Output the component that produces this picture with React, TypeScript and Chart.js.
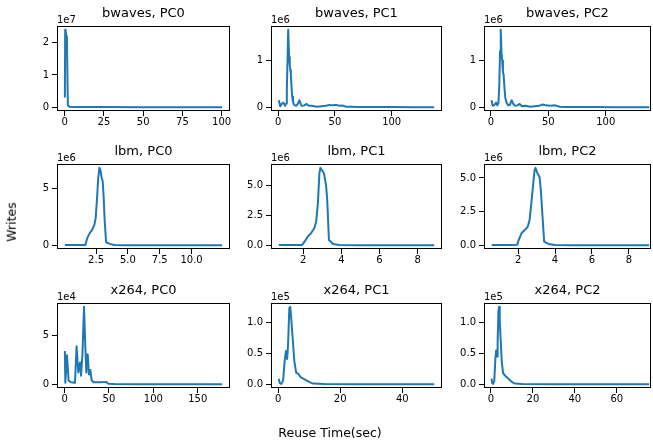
import React, { useEffect, useRef } from "react";
import { Chart, registerables } from "chart.js";

Chart.register(...registerables);

const FONT = "'DejaVu Sans', sans-serif";
const BLUE = "#1f77b4";

// ---- bwaves ----
const bwavesPC0X = [0.1, 0.3, 0.6, 1.0, 1.4, 2.0, 3.0, 5, 10, 25, 50, 75, 100.3];
const bwavesPC0Y = [3.0e6, 2.4e7, 2.38e7, 2.2e7, 2.1e7, 6e5, 1e5, 5e4, 2e4, 1e4, 5e3, 3e3, 2e3];
const bwavesPC0XTicks = [0, 25, 50, 75, 100];
const bwavesPC0YTicks = [0, 1e7, 2e7];

const bwavesPC1X = [0.5, 1.8, 3, 4.6, 6, 7, 7.6, 8.3, 8.8, 9.6, 10.2, 10.6, 11.1, 11.7, 12.3, 13, 14, 15.8, 17.5, 18.7, 20, 20.8, 23, 25, 27, 29.5, 34, 38, 42, 45.6, 48, 51, 54, 57, 60, 65, 70, 80, 100, 120, 137.5];
const bwavesPC1Y = [1.5e5, 2e4, 7e4, 1e5, 3e4, 8e4, 4e5, 1.1e6, 1.66e6, 1.08e6, 9e5, 8e5, 7.3e5, 4.5e5, 2.3e5, 1.2e5, 5e4, 3e4, 8e4, 1.5e5, 6e4, 3e4, 4e4, 7e4, 3e4, 3e4, 1e4, 2e4, 3e4, 5e4, 4e4, 5e4, 3e4, 3.5e4, 1e4, 8e3, 5e3, 4e3, 3e3, 2e3, 2e3];
const bwavesPC1XTicks = [0, 50, 100];
const bwavesPC1YTicks = [0, 1e6];

const bwavesPC2X = [0.5, 1.5, 3, 4.5, 5.5, 6.5, 7.2, 7.9, 8.5, 9.2, 9.8, 10.4, 11, 11.8, 12.5, 13.5, 15, 16.5, 18, 19.5, 21, 23, 25, 27, 30, 34, 38, 42, 45, 48, 52, 56, 60, 66, 75, 90, 110, 138];
const bwavesPC2Y = [1.5e5, 3e4, 5e4, 1e5, 4e4, 9e4, 4.5e5, 1.2e6, 1.66e6, 1.15e6, 1.0e6, 7.5e5, 7e5, 4e5, 2e5, 1e5, 4e4, 5e4, 1.5e5, 7e4, 3e4, 4e4, 7e4, 2e4, 3e4, 1e4, 2e4, 3e4, 6e4, 4e4, 3e4, 4e4, 1e4, 6e3, 4e3, 3e3, 2e3, 2e3];
const bwavesPC2XTicks = [0, 50, 100];
const bwavesPC2YTicks = [0, 1e6];

// ---- lbm ----
const lbmPC0X = [0.05, 1.0, 1.66, 1.8, 2.0, 2.19, 2.37, 2.47, 2.58, 2.66, 2.76, 2.84, 2.92, 3.02, 3.1, 3.18, 3.29, 3.63, 3.95, 5, 7, 9, 11, 12.4];
const lbmPC0Y = [2e4, 2e4, 3e4, 6e5, 1.06e6, 1.35e6, 1.8e6, 2.4e6, 4.15e6, 5.76e6, 6.8e6, 6.65e6, 6.05e6, 5.6e6, 4.15e6, 2.08e6, 2.6e5, 1e5, 2e4, 1e4, 1e4, 1e4, 1e4, 1e4];
const lbmPC0XTicks = [2.5, 5, 7.5, 10];
const lbmPC0YTicks = [0, 5e6];

const lbmPC1X = [0.72, 1.5, 1.95, 2.07, 2.24, 2.41, 2.58, 2.68, 2.77, 2.85, 2.9, 2.99, 3.09, 3.2, 3.26, 3.35, 3.57, 3.9, 5, 7, 8.87];
const lbmPC1Y = [2e4, 2e4, 3e4, 3e5, 7.2e5, 1.0e6, 1.42e6, 1.97e6, 3.5e6, 6.0e6, 6.47e6, 6.27e6, 6.0e6, 5.0e6, 3.77e6, 4.4e5, 1e5, 2e4, 1e4, 1e4, 1e4];
const lbmPC1XTicks = [2, 4, 6, 8];
const lbmPC1YTicks = [0, 2.5e6, 5e6];

const lbmPC2X = [0.57, 1.5, 1.95, 2.03, 2.18, 2.36, 2.52, 2.62, 2.75, 2.89, 2.94, 3.05, 3.16, 3.23, 3.3, 3.41, 3.64, 4.0, 5, 7, 9.1];
const lbmPC2Y = [2e4, 2e4, 3e4, 3.9e5, 8.9e5, 1.13e6, 1.38e6, 1.87e6, 3.6e6, 5.58e6, 5.75e6, 5.33e6, 5.08e6, 4.1e6, 2.6e6, 2.7e5, 1e5, 2e4, 1e4, 1e4, 1e4];
const lbmPC2XTicks = [2, 4, 6, 8];
const lbmPC2YTicks = [0, 2.5e6, 5e6];

// ---- x264 ----
const x264PC0X = [0.3, 0.8, 2.7, 4.5, 7.2, 11.7, 13.5, 15.4, 17.4, 18.5, 20, 21.9, 23.3, 24.5, 26, 27.5, 29, 30.4, 32.7, 41, 46.7, 49.3, 56, 80, 120, 177.5];
const x264PC0Y = [3.37e4, 1.4e3, 2.94e4, 3.7e3, 2e3, 1.5e3, 3.87e4, 1.2e4, 2.2e4, 8.7e3, 2.87e4, 7.87e4, 3.87e4, 1.2e4, 3.04e4, 1.0e4, 1.45e4, 4e3, 2e3, 2e3, 2.4e3, 5e2, 2e2, 1e2, 1e2, 1e2];
const x264PC0XTicks = [0, 50, 100, 150];
const x264PC0YTicks = [0, 5e4];

const x264PC1X = [0.2, 0.5, 1.0, 1.6, 2.1, 2.5, 2.9, 3.2, 3.6, 3.9, 4.2, 4.6, 5.2, 5.8, 6.5, 7.3, 8.1, 9.2, 10.3, 11.3, 15, 25, 40, 50.3];
const x264PC1Y = [9e3, 2e3, 5e2, 6e3, 3.8e4, 5.4e4, 4.1e4, 6.5e4, 1.24e5, 1.26e5, 1.08e5, 8.1e4, 3.8e4, 1.9e4, 1.7e4, 1.1e4, 9e3, 6e3, 3e3, 1e3, 2e2, 1e2, 1e2, 1e2];
const x264PC1XTicks = [0, 20, 40];
const x264PC1YTicks = [0, 5e4, 1e5];

const x264PC2X = [0.3, 0.6, 1.0, 1.6, 2.1, 2.5, 2.9, 3.2, 3.6, 3.9, 4.2, 4.6, 5.2, 5.8, 6.5, 7.3, 8.1, 9.2, 10.3, 11.5, 15, 30, 50, 75.4];
const x264PC2Y = [9e3, 2e3, 5e2, 5e3, 4e4, 5.5e4, 4.5e4, 7e4, 1.2e5, 1.26e5, 1.05e5, 7.5e4, 3.5e4, 1.8e4, 1.5e4, 1.2e4, 1e4, 6e3, 3e3, 1e3, 2e2, 1e2, 1e2, 1e2];
const x264PC2XTicks = [0, 20, 40, 60];
const x264PC2YTicks = [0, 5e4, 1e5];

type Panel = {
  title: string;
  x: number[];
  y: number[];
  xTicks: number[];
  xDec: number;
  yTicks: number[];
  yExp: number;
  yDec: number;
  row: number;
  col: number;
  xLim?: [number, number];
};

const panels: Panel[] = [
  { title: "bwaves, PC0", x: bwavesPC0X, y: bwavesPC0Y, xTicks: bwavesPC0XTicks, xDec: 0, yTicks: bwavesPC0YTicks, yExp: 7, yDec: 0, row: 0, col: 0 },
  { title: "bwaves, PC1", x: bwavesPC1X, y: bwavesPC1Y, xTicks: bwavesPC1XTicks, xDec: 0, yTicks: bwavesPC1YTicks, yExp: 6, yDec: 0, row: 0, col: 1 },
  { title: "bwaves, PC2", x: bwavesPC2X, y: bwavesPC2Y, xTicks: bwavesPC2XTicks, xDec: 0, yTicks: bwavesPC2YTicks, yExp: 6, yDec: 0, row: 0, col: 2, xLim: [-6.1, 139.5] },
  { title: "lbm, PC0", x: lbmPC0X, y: lbmPC0Y, xTicks: lbmPC0XTicks, xDec: 1, yTicks: lbmPC0YTicks, yExp: 6, yDec: 0, row: 1, col: 0 },
  { title: "lbm, PC1", x: lbmPC1X, y: lbmPC1Y, xTicks: lbmPC1XTicks, xDec: 0, yTicks: lbmPC1YTicks, yExp: 6, yDec: 1, row: 1, col: 1 },
  { title: "lbm, PC2", x: lbmPC2X, y: lbmPC2Y, xTicks: lbmPC2XTicks, xDec: 0, yTicks: lbmPC2YTicks, yExp: 6, yDec: 1, row: 1, col: 2, xLim: [0.15, 9.2] },
  { title: "x264, PC0", x: x264PC0X, y: x264PC0Y, xTicks: x264PC0XTicks, xDec: 0, yTicks: x264PC0YTicks, yExp: 4, yDec: 0, row: 2, col: 0 },
  { title: "x264, PC1", x: x264PC1X, y: x264PC1Y, xTicks: x264PC1XTicks, xDec: 0, yTicks: x264PC1YTicks, yExp: 5, yDec: 1, row: 2, col: 1 },
  { title: "x264, PC2", x: x264PC2X, y: x264PC2Y, xTicks: x264PC2XTicks, xDec: 0, yTicks: x264PC2YTicks, yExp: 5, yDec: 1, row: 2, col: 2, xLim: [-3.3, 76.3] },
];

const COL_L = [57, 271, 484];
const COL_R = [230, 442, 651];
const ROW_T = [26, 164, 303];
const ROW_B = [111, 249, 388];
const PAD_L = 50;
const PAD_T = 24;
const PAD_R = 6;
const PAD_B = 24;

function withMargin(v: number[]): [number, number] {
  const mn = Math.min(...v);
  const mx = Math.max(...v);
  const m = (mx - mn) * 0.05;
  return [mn - m, mx + m];
}

const framePlugin = {
  id: "frame",
  afterDraw(chart: any, _args: any, opts: any) {
    const { ctx, chartArea: a } = chart;
    ctx.save();
    ctx.strokeStyle = "#000";
    ctx.lineWidth = 1;
    ctx.strokeRect(Math.round(a.left) + 0.5, Math.round(a.top) + 0.5, Math.round(a.right - a.left) - 1, Math.round(a.bottom - a.top) - 1);
    ctx.fillStyle = "#000";
    ctx.font = `13px ${FONT}`;
    ctx.textAlign = "center";
    ctx.textBaseline = "alphabetic";
    ctx.fillText(opts.title, (a.left + a.right) / 2, a.top - 9);
    ctx.font = `10px ${FONT}`;
    ctx.textAlign = "left";
    ctx.fillText(opts.offset, a.left, a.top - 3);
    ctx.restore();
  },
};

function PanelChart({ p }: { p: Panel }) {
  const ref = useRef<HTMLCanvasElement | null>(null);
  const w = COL_R[p.col] - COL_L[p.col] + PAD_L + PAD_R;
  const h = ROW_B[p.row] - ROW_T[p.row] + PAD_T + PAD_B;

  useEffect(() => {
    if (!ref.current) return;
    const xl = p.xLim ?? withMargin(p.x);
    const yl = withMargin(p.y);
    const gridOpts = {
      display: true,
      drawOnChartArea: false,
      drawTicks: true,
      tickLength: 5,
      tickColor: "#000",
      color: "#000",
      lineWidth: 1,
    };
    const chart = new Chart(ref.current, {
      type: "line",
      data: {
        datasets: [
          {
            data: p.x.map((xv, i) => ({ x: xv, y: p.y[i] })),
            borderColor: BLUE,
            backgroundColor: BLUE,
            borderWidth: 2,
            pointRadius: 0,
            tension: 0,
            fill: false,
            borderJoinStyle: "round",
          },
        ],
      },
      options: {
        animation: false,
        responsive: false,
        devicePixelRatio: 1,
        layout: { padding: { top: PAD_T, right: PAD_R, left: 0, bottom: 0 } },
        plugins: {
          legend: { display: false },
          tooltip: { enabled: false },
          frame: { title: p.title, offset: `1e${p.yExp}` },
        } as any,
        scales: {
          x: {
            type: "linear",
            min: xl[0],
            max: xl[1],
            afterBuildTicks: (ax: any) => {
              ax.ticks = p.xTicks.map((v) => ({ value: v }));
            },
            afterFit: (s: any) => {
              s.height = PAD_B;
            },
            grid: gridOpts,
            border: { display: false },
            ticks: {
              color: "#000",
              font: { family: FONT, size: 10, lineHeight: 1 },
              padding: 1,
              maxRotation: 0,
              autoSkip: false,
              callback: (v: any) => Number(v).toFixed(p.xDec),
            },
          },
          y: {
            type: "linear",
            min: yl[0],
            max: yl[1],
            afterBuildTicks: (ax: any) => {
              ax.ticks = p.yTicks.map((v) => ({ value: v }));
            },
            afterFit: (s: any) => {
              s.width = PAD_L;
            },
            grid: gridOpts,
            border: { display: false },
            ticks: {
              color: "#000",
              font: { family: FONT, size: 10, lineHeight: 1 },
              padding: 3,
              autoSkip: false,
              callback: (v: any) => (Number(v) / Math.pow(10, p.yExp)).toFixed(p.yDec),
            },
          },
        },
      } as any,
      plugins: [framePlugin as any],
    });
    return () => chart.destroy();
  }, [p]);

  return (
    <canvas
      ref={ref}
      width={w}
      height={h}
      style={{
        position: "absolute",
        left: COL_L[p.col] - PAD_L,
        top: ROW_T[p.row] - PAD_T,
        width: w,
        height: h,
        display: "block",
      }}
    />
  );
}

export default function App() {
  return (
    <div
      style={{
        position: "absolute",
        left: 0,
        top: 0,
        width: 653,
        height: 445,
        overflow: "hidden",
        background: "#fff",
        fontFamily: FONT,
        fontWeight: 400,
      }}
    >
      {panels.map((p) => (
        <PanelChart key={p.title} p={p} />
      ))}
      <div
        style={{
          position: "absolute",
          left: 12,
          top: 222,
          transform: "translate(-50%, -50%) rotate(-90deg)",
          fontSize: 12.5,
          fontWeight: 400,
          whiteSpace: "nowrap",
          color: "#000",
          lineHeight: 1,
        }}
      >
        Writes
      </div>
      <div
        style={{
          position: "absolute",
          left: 330,
          top: 433,
          transform: "translate(-50%, -50%)",
          fontSize: 12.5,
          fontWeight: 400,
          whiteSpace: "nowrap",
          color: "#000",
          lineHeight: 1,
        }}
      >
        Reuse Time(sec)
      </div>
    </div>
  );
}
